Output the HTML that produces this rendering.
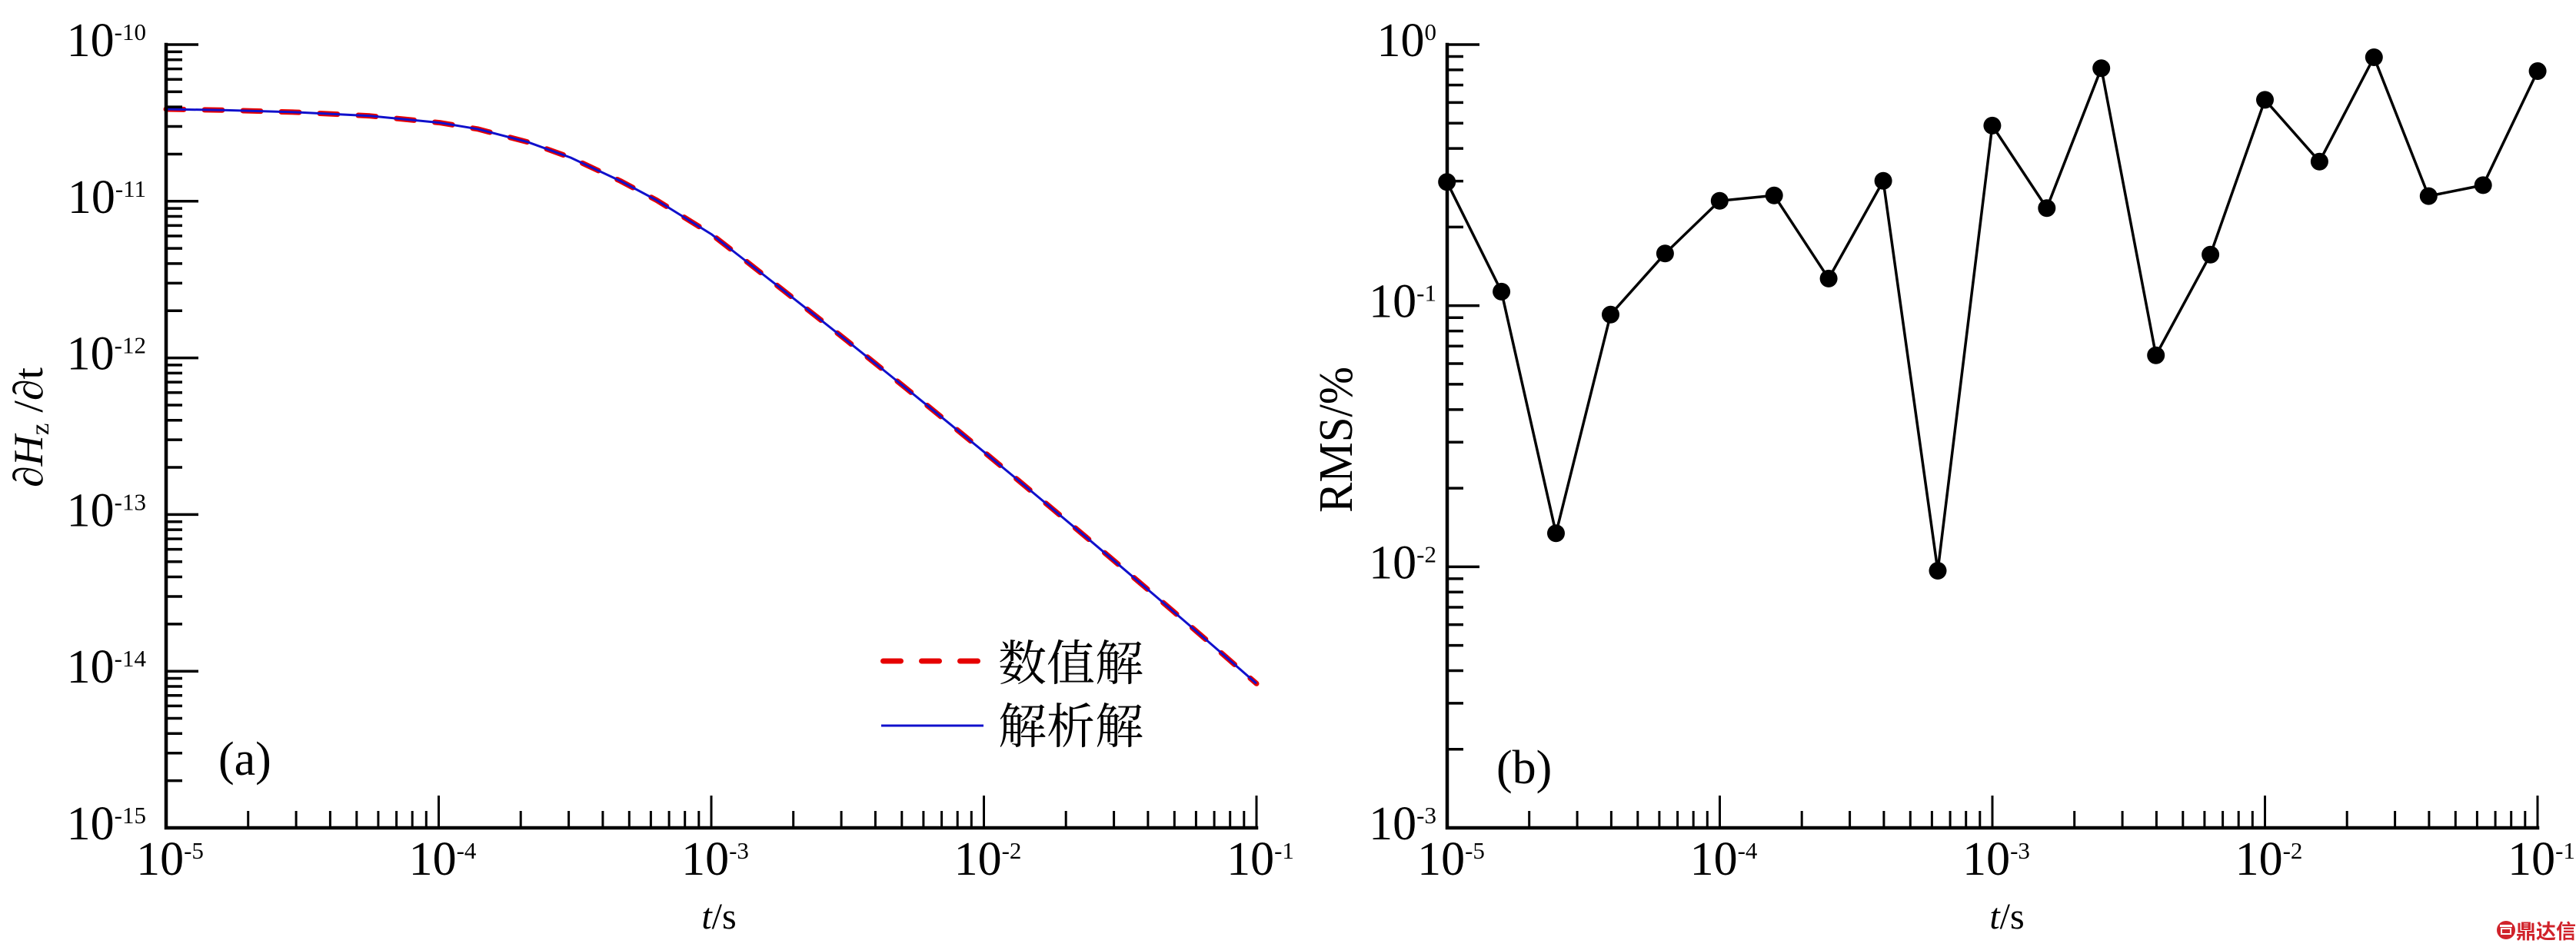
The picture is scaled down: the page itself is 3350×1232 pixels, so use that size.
<!DOCTYPE html>
<html>
<head>
<meta charset="utf-8">
<style>
  html,body{margin:0;padding:0;background:#fff;}
  svg{display:block;}
  text{font-family:"Liberation Serif","Noto Serif CJK SC",serif;fill:#000;}
</style>
</head>
<body>
<svg width="3350" height="1232" viewBox="0 0 3350 1232" xmlns="http://www.w3.org/2000/svg">
  <rect width="3350" height="1232" fill="#fff"/>

  <!-- ============ LEFT PANEL (a) ============ -->
  <polyline fill="none" stroke="#e60000" stroke-width="7" stroke-linecap="round" stroke-linejoin="round" stroke-dasharray="23 27"
    points="216,142 295,143.4 388,146.1 481,150.8 571.7,159.6 621,167.8 686,184.7 742,205 807,235.5 854,260.5 925,304.6 969.3,339 1013.6,373.7 1057.9,408.7 1102.3,443.9 1146.6,479.5 1190.9,515.3 1235.2,551.4 1279.5,587.8 1323.8,624.5 1368.1,661.5 1412.4,698.7 1456.8,736.3 1501.1,774.1 1545.4,812.2 1589.7,850.6 1634,889.3"/>
  <polyline fill="none" stroke="#1010cc" stroke-width="3" stroke-linejoin="round"
    points="216,142 295,143.4 388,146.1 481,150.8 571.7,159.6 621,167.8 686,184.7 742,205 807,235.5 854,260.5 925,304.6 969.3,339 1013.6,373.7 1057.9,408.7 1102.3,443.9 1146.6,479.5 1190.9,515.3 1235.2,551.4 1279.5,587.8 1323.8,624.5 1368.1,661.5 1412.4,698.7 1456.8,736.3 1501.1,774.1 1545.4,812.2 1589.7,850.6 1634,889.3"/>

  <path d="M216 58 V1077 H1634" fill="none" stroke="#000" stroke-width="4.5" stroke-linecap="square" stroke-linejoin="miter"/>
  <path fill="none" stroke="#000" stroke-width="3" d="
    M570.5 1077V1035 M925 1077V1035 M1279.5 1077V1035 M1634 1077V1035
    M322.7 1077V1055 M385.1 1077V1055 M429.4 1077V1055 M463.8 1077V1055 M491.9 1077V1055 M515.6 1077V1055 M536.2 1077V1055 M554.3 1077V1055
    M677.2 1077V1055 M739.6 1077V1055 M783.9 1077V1055 M818.3 1077V1055 M846.4 1077V1055 M870.1 1077V1055 M890.7 1077V1055 M908.8 1077V1055
    M1031.7 1077V1055 M1094.1 1077V1055 M1138.4 1077V1055 M1172.8 1077V1055 M1200.9 1077V1055 M1224.6 1077V1055 M1245.2 1077V1055 M1263.3 1077V1055
    M1386.2 1077V1055 M1448.6 1077V1055 M1492.9 1077V1055 M1527.3 1077V1055 M1555.4 1077V1055 M1579.1 1077V1055 M1599.7 1077V1055 M1617.8 1077V1055"/>
  <path fill="none" stroke="#000" stroke-width="3.5" d="
    M216 58H258 M216 261.8H258 M216 465.6H258 M216 669.4H258 M216 873.2H258
    M216 1015.65H237 M216 979.76H237 M216 954.3H237 M216 934.55H237 M216 918.41H237 M216 904.77H237 M216 892.95H237 M216 882.53H237
    M216 811.85H237 M216 775.96H237 M216 750.5H237 M216 730.75H237 M216 714.61H237 M216 700.97H237 M216 689.15H237 M216 678.73H237
    M216 608.05H237 M216 572.16H237 M216 546.7H237 M216 526.95H237 M216 510.81H237 M216 497.17H237 M216 485.35H237 M216 474.93H237
    M216 404.25H237 M216 368.36H237 M216 342.9H237 M216 323.15H237 M216 307.01H237 M216 293.37H237 M216 281.55H237 M216 271.13H237
    M216 200.45H237 M216 164.56H237 M216 139.1H237 M216 119.35H237 M216 103.21H237 M216 89.57H237 M216 77.75H237 M216 67.33H237"/>

  <g text-anchor="end">
    <text x="190" y="73"><tspan font-size="62">10</tspan><tspan font-size="31" dy="-21">-10</tspan></text>
    <text x="190" y="276.8"><tspan font-size="62">10</tspan><tspan font-size="31" dy="-21">-11</tspan></text>
    <text x="190" y="480.6"><tspan font-size="62">10</tspan><tspan font-size="31" dy="-21">-12</tspan></text>
    <text x="190" y="684.4"><tspan font-size="62">10</tspan><tspan font-size="31" dy="-21">-13</tspan></text>
    <text x="190" y="888.2"><tspan font-size="62">10</tspan><tspan font-size="31" dy="-21">-14</tspan></text>
    <text x="190" y="1092"><tspan font-size="62">10</tspan><tspan font-size="31" dy="-21">-15</tspan></text>
  </g>
  <g text-anchor="middle">
    <text x="221" y="1138"><tspan font-size="62">10</tspan><tspan font-size="31" dy="-21">-5</tspan></text>
    <text x="575.5" y="1138"><tspan font-size="62">10</tspan><tspan font-size="31" dy="-21">-4</tspan></text>
    <text x="930" y="1138"><tspan font-size="62">10</tspan><tspan font-size="31" dy="-21">-3</tspan></text>
    <text x="1284.5" y="1138"><tspan font-size="62">10</tspan><tspan font-size="31" dy="-21">-2</tspan></text>
    <text x="1639" y="1138"><tspan font-size="62">10</tspan><tspan font-size="31" dy="-21">-1</tspan></text>
  </g>

  <text transform="translate(55,556) rotate(-90)" text-anchor="middle" font-size="54" textLength="156" lengthAdjust="spacingAndGlyphs">∂<tspan font-style="italic">H</tspan><tspan font-size="34" dy="8">z</tspan><tspan dy="-8"> /∂t</tspan></text>
  <text x="935" y="1208" text-anchor="middle" font-size="48"><tspan font-style="italic">t</tspan>/s</text>

  <line x1="1148.5" y1="860" x2="1271.5" y2="860" stroke="#e60000" stroke-width="7" stroke-linecap="round" stroke-dasharray="23 27"/>
  <line x1="1146" y1="944" x2="1279" y2="944" stroke="#1010cc" stroke-width="3"/>
  <text x="1298" y="885" font-size="63">数值解</text>
  <text x="1298" y="967" font-size="63">解析解</text>

  <text x="284" y="1008" font-size="62">(a)</text>

  <!-- ============ RIGHT PANEL (b) ============ -->
  <polyline fill="none" stroke="#000" stroke-width="3.5" stroke-linejoin="miter"
    points="1881.7,236.7 1952.6,379.4 2023.5,693.8 2094.5,409.2 2165.4,329.8 2236.3,261.3 2307.2,254.2 2378.1,362.4 2449.1,235.3 2520,742.5 2590.9,163.4 2661.8,270.7 2732.7,88.7 2803.7,462.2 2874.6,331.2 2945.5,129.9 3016.4,210.2 3087.3,74.5 3158.3,255.1 3229.2,240.9 3300.1,92.5"/>
  <g fill="#000">
    <circle cx="1881.7" cy="236.7" r="11.5"/>
    <circle cx="1952.6" cy="379.4" r="11.5"/>
    <circle cx="2023.5" cy="693.8" r="11.5"/>
    <circle cx="2094.5" cy="409.2" r="11.5"/>
    <circle cx="2165.4" cy="329.8" r="11.5"/>
    <circle cx="2236.3" cy="261.3" r="11.5"/>
    <circle cx="2307.2" cy="254.2" r="11.5"/>
    <circle cx="2378.1" cy="362.4" r="11.5"/>
    <circle cx="2449.1" cy="235.3" r="11.5"/>
    <circle cx="2520" cy="742.5" r="11.5"/>
    <circle cx="2590.9" cy="163.4" r="11.5"/>
    <circle cx="2661.8" cy="270.7" r="11.5"/>
    <circle cx="2732.7" cy="88.7" r="11.5"/>
    <circle cx="2803.7" cy="462.2" r="11.5"/>
    <circle cx="2874.6" cy="331.2" r="11.5"/>
    <circle cx="2945.5" cy="129.9" r="11.5"/>
    <circle cx="3016.4" cy="210.2" r="11.5"/>
    <circle cx="3087.3" cy="74.5" r="11.5"/>
    <circle cx="3158.3" cy="255.1" r="11.5"/>
    <circle cx="3229.2" cy="240.9" r="11.5"/>
    <circle cx="3300.1" cy="92.5" r="11.5"/>
  </g>

  <path d="M1882 58 V1077 H3300" fill="none" stroke="#000" stroke-width="4.5" stroke-linecap="square" stroke-linejoin="miter"/>
  <path fill="none" stroke="#000" stroke-width="3" d="
    M2236.5 1077V1035 M2591 1077V1035 M2945.5 1077V1035 M3300 1077V1035
    M1988.7 1077V1055 M2051.1 1077V1055 M2095.4 1077V1055 M2129.8 1077V1055 M2157.9 1077V1055 M2181.6 1077V1055 M2202.2 1077V1055 M2220.3 1077V1055
    M2343.2 1077V1055 M2405.6 1077V1055 M2449.9 1077V1055 M2484.3 1077V1055 M2512.4 1077V1055 M2536.1 1077V1055 M2556.7 1077V1055 M2574.8 1077V1055
    M2697.7 1077V1055 M2760.1 1077V1055 M2804.4 1077V1055 M2838.8 1077V1055 M2866.9 1077V1055 M2890.6 1077V1055 M2911.2 1077V1055 M2929.3 1077V1055
    M3052.2 1077V1055 M3114.6 1077V1055 M3158.9 1077V1055 M3193.3 1077V1055 M3221.4 1077V1055 M3245.1 1077V1055 M3265.7 1077V1055 M3283.8 1077V1055"/>
  <path fill="none" stroke="#000" stroke-width="3.5" d="
    M1882 58H1924 M1882 397.67H1924 M1882 737.33H1924
    M1882 974.75H1903 M1882 914.93H1903 M1882 872.5H1903 M1882 839.58H1903 M1882 812.68H1903 M1882 789.94H1903 M1882 770.24H1903 M1882 752.87H1903
    M1882 635.08H1903 M1882 575.26H1903 M1882 532.83H1903 M1882 499.91H1903 M1882 473.01H1903 M1882 450.27H1903 M1882 430.57H1903 M1882 413.2H1903
    M1882 295.42H1903 M1882 235.6H1903 M1882 193.17H1903 M1882 160.25H1903 M1882 133.35H1903 M1882 110.61H1903 M1882 90.91H1903 M1882 73.54H1903"/>

  <g text-anchor="end">
    <text x="1868" y="73"><tspan font-size="62">10</tspan><tspan font-size="31" dy="-21">0</tspan></text>
    <text x="1868" y="412.7"><tspan font-size="62">10</tspan><tspan font-size="31" dy="-21">-1</tspan></text>
    <text x="1868" y="752.3"><tspan font-size="62">10</tspan><tspan font-size="31" dy="-21">-2</tspan></text>
    <text x="1868" y="1092"><tspan font-size="62">10</tspan><tspan font-size="31" dy="-21">-3</tspan></text>
  </g>
  <g text-anchor="middle">
    <text x="1887" y="1138"><tspan font-size="62">10</tspan><tspan font-size="31" dy="-21">-5</tspan></text>
    <text x="2241.5" y="1138"><tspan font-size="62">10</tspan><tspan font-size="31" dy="-21">-4</tspan></text>
    <text x="2596" y="1138"><tspan font-size="62">10</tspan><tspan font-size="31" dy="-21">-3</tspan></text>
    <text x="2950.5" y="1138"><tspan font-size="62">10</tspan><tspan font-size="31" dy="-21">-2</tspan></text>
    <text x="3305" y="1138"><tspan font-size="62">10</tspan><tspan font-size="31" dy="-21">-1</tspan></text>
  </g>

  <text transform="translate(1758,572) rotate(-90)" text-anchor="middle" font-size="62" textLength="190" lengthAdjust="spacingAndGlyphs">RMS/%</text>
  <text x="2610" y="1208" text-anchor="middle" font-size="48"><tspan font-style="italic">t</tspan>/s</text>

  <text x="1946" y="1019" font-size="62">(b)</text>

  <!-- watermark -->
  <g>
    <circle cx="3259" cy="1210" r="12" fill="#d0232b"/>
    <rect x="3251" y="1203" width="16" height="3" fill="#fff"/>
    <rect x="3253" y="1208" width="12" height="7" fill="none" stroke="#fff" stroke-width="2"/>
    <text x="3272" y="1221" font-size="26" font-weight="bold" style='font-family:"Liberation Sans","Noto Sans CJK SC",sans-serif;fill:#d0232b'>鼎达信</text>
  </g>
</svg>
</body>
</html>
